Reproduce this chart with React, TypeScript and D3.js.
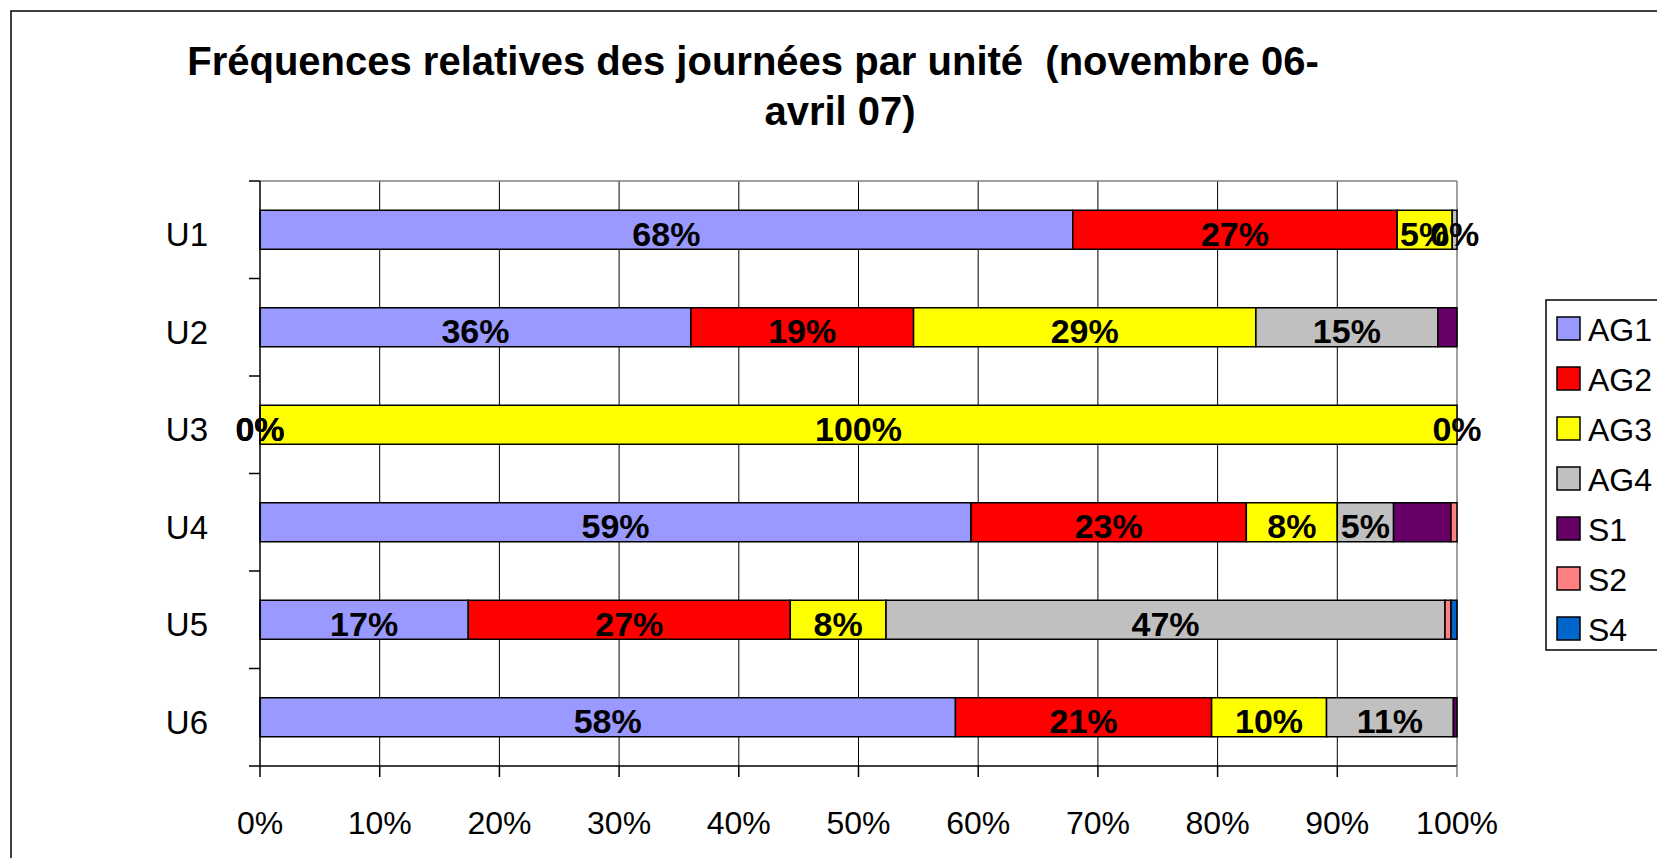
import React from 'react'
import * as d3 from 'd3'

const units = ['U1', 'U2', 'U3', 'U4', 'U5', 'U6']
const seriesNames = ['AG1', 'AG2', 'AG3', 'AG4', 'S1', 'S2', 'S4']
const seriesColors = ['#9999ff', '#ff0000', '#ffff00', '#c0c0c0', '#660066', '#ff8080', '#0066cc']
// values in % per unit, series order AG1 AG2 AG3 AG4 S1 S2 S4
const ag1 = [67.9, 36.0, 0, 59.4, 17.4, 58.1]
const ag2 = [27.1, 18.6, 0, 23.0, 26.9, 21.4]
const ag3 = [4.6, 28.6, 100, 7.6, 8.0, 9.6]
const ag4 = [0.4, 15.2, 0, 4.7, 46.7, 10.6]
const s1 = [0, 1.6, 0, 4.8, 0, 0.3]
const s2 = [0, 0, 0, 0.5, 0.5, 0]
const s4 = [0, 0, 0, 0, 0.5, 0]
// only the AG series carry data labels
const labelled = [true, true, true, true, false, false, false]
const xTicks = [0, 10, 20, 30, 40, 50, 60, 70, 80, 90, 100]

const font = "'Liberation Sans', Arial, sans-serif"

const App = () => {
  const width = 1657
  const height = 858
  const left = 260
  const right = 1457
  const top = 181
  const bottom = 766

  const x = d3.scaleLinear().domain([0, 100]).range([left, right])
  const y = d3.scaleBand().domain(units).range([top, bottom]).paddingInner(0.6).paddingOuter(0.3)
  const yb = d3.scaleBand().domain(units).range([top, bottom])

  const rows = units.map((u, i) => {
    const obj: any = { unit: u }
    const all = [ag1, ag2, ag3, ag4, s1, s2, s4]
    seriesNames.forEach((s, j) => (obj[s] = all[j][i]))
    return obj
  })
  const stacked = d3.stack().keys(seriesNames)(rows)

  return (
    <svg width={width} height={height} style={{ position: 'absolute', left: 0, top: 0 }} fontFamily={font}>
      <rect x={0} y={0} width={width} height={height} fill="#fff" />
      <rect x={11} y={11} width={width + 20} height={height + 20} fill="none" stroke="#000" strokeWidth={1.5} />
      <text x={753} y={75} textAnchor="middle" fontWeight="bold" fontSize={40}>
        Fréquences relatives des journées par unité{'\u00a0\u00a0'}(novembre 06-
      </text>
      <text x={840} y={125} textAnchor="middle" fontWeight="bold" fontSize={40}>
        avril 07)
      </text>

      {/* grid */}
      {xTicks.slice(1, -1).map((t) => (
        <line key={t} x1={x(t)} x2={x(t)} y1={top} y2={bottom} stroke="#000" strokeWidth={1} />
      ))}
      <line x1={left} x2={right} y1={top} y2={top} stroke="#808080" strokeWidth={1.5} />
      <line x1={right} x2={right} y1={top} y2={bottom} stroke="#808080" strokeWidth={1.5} />

      {/* bars */}
      {stacked.map((layer, j) =>
        layer.map((d, i) =>
          d[1] - d[0] > 0 ? (
            <rect
              key={`${j}-${i}`}
              x={x(d[0])}
              y={y(units[i])}
              width={x(d[1]) - x(d[0])}
              height={y.bandwidth()}
              fill={seriesColors[j]}
              stroke="#000"
              strokeWidth={1.5}
            />
          ) : null
        )
      )}

      {/* axes */}
      <line x1={left} x2={left} y1={top} y2={bottom} stroke="#000" strokeWidth={1.5} />
      <line x1={left} x2={right} y1={bottom} y2={bottom} stroke="#000" strokeWidth={1.5} />
      {units.map((u) => (
        <line key={u} x1={left - 11} x2={left} y1={yb(u)} y2={yb(u)} stroke="#000" strokeWidth={1.5} />
      ))}
      <line x1={left - 11} x2={left} y1={bottom} y2={bottom} stroke="#000" strokeWidth={1.5} />
      {xTicks.map((t) => (
        <g key={t}>
          <line x1={x(t)} x2={x(t)} y1={bottom} y2={bottom + 11} stroke={t === 100 ? '#808080' : '#000'} strokeWidth={1.5} />
          <text x={x(t)} y={834} textAnchor="middle" fontSize={32}>
            {t}%
          </text>
        </g>
      ))}
      {units.map((u) => (
        <text key={u} x={208} y={y(u)! + y.bandwidth() / 2 + 5} dy="0.35em" textAnchor="end" fontSize={33}>
          {u}
        </text>
      ))}

      {/* data labels */}
      {stacked.map((layer, j) =>
        labelled[j]
          ? layer.map((d, i) => (
              <text
                key={`l${j}-${i}`}
                x={x((d[0] + d[1]) / 2)}
                y={y(units[i])! + y.bandwidth() / 2 + 4}
                dy="0.36em"
                textAnchor="middle"
                fontWeight="bold"
                fontSize={34}
              >
                {Math.round(d[1] - d[0])}%
              </text>
            ))
          : null
      )}

      {/* legend */}
      <rect x={1546} y={300} width={200} height={350} fill="#fff" stroke="#000" strokeWidth={1.5} />
      {seriesNames.map((s, j) => (
        <g key={s}>
          <rect x={1557} y={317 + j * 50} width={23} height={23} fill={seriesColors[j]} stroke="#000" strokeWidth={1.5} />
          <text x={1588} y={329 + j * 50} dy="0.36em" fontSize={32}>
            {s}
          </text>
        </g>
      ))}
    </svg>
  )
}

export default App
